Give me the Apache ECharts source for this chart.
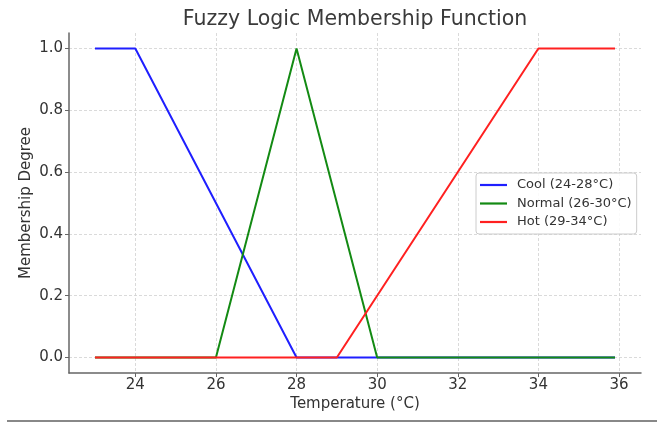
<!DOCTYPE html>
<html>
<head>
<meta charset="utf-8">
<script src="https://cdn.jsdelivr.net/npm/echarts@6/dist/echarts.min.js"></script>
<style>
html,body{margin:0;padding:0;background:#fff;}
#c{width:657px;height:422px;}
</style>
</head>
<body>
<div id="c"></div>
<script>
// Data
const seriesNames = ['Cool (24-28°C)', 'Normal (26-30°C)', 'Hot (29-34°C)'];
const coolX = [23, 24, 28, 35.9];
const coolY = [1, 1, 0, 0];
const normalX = [23, 26, 28, 30, 35.9];
const normalY = [0, 0, 1, 0, 0];
const hotX = [23, 29, 34, 35.9];
const hotY = [0, 0, 1, 1];
const xTicks = [24, 26, 28, 30, 32, 34, 36];
const yTicks = [0, 0.2, 0.4, 0.6, 0.8, 1.0];

const pair = (xs, ys) => xs.map((x, i) => [x, ys[i]]);
const font = 'DejaVu Sans';
const txt = '#333';
const gridLine = { show: true, lineStyle: { color: '#d0d0d0', type: [3, 2], width: 0.8 } };
const colors = ['#1f1fff', '#138a13', '#ff2020'];

const chart = echarts.init(document.getElementById('c'), null, { renderer: 'canvas' });
chart.setOption({
  animation: false,
  backgroundColor: '#fff',
  title: {
    text: 'Fuzzy Logic Membership Function',
    left: 350, top: 4, textAlign: 'center',
    textStyle: { fontFamily: font, fontSize: 20.5, fontWeight: 'normal', color: '#3a3a3a' }
  },
  grid: { left: 69, right: 16, top: 33, bottom: 49, containLabel: false },
  legend: {
    orient: 'vertical', left: 476, top: 173,
    padding: [5, 5, 5, 4],
    icon: 'rect',
    itemWidth: 27, itemHeight: 2.2, itemGap: 4.5,
    backgroundColor: 'rgba(255,255,255,0.85)',
    borderColor: '#cccccc', borderWidth: 1, borderRadius: 3,
    textStyle: { fontFamily: font, fontSize: 13, lineHeight: 14, color: txt, padding: [0, 0, 0, 5] },
    data: seriesNames.map((n, i) => ({ name: n, itemStyle: { color: colors[i] } }))
  },
  xAxis: {
    type: 'value', min: 22.355, max: 36.545,
    name: 'Temperature (°C)', nameLocation: 'middle', nameGap: 24, nameMoveOverlap: false,
    nameTextStyle: { fontFamily: font, fontSize: 15, color: txt },
    axisLine: { show: true, onZero: false, lineStyle: { color: '#666', width: 1.5 } },
    axisTick: { show: true, length: 4, lineStyle: { color: '#666', width: 1 }, customValues: xTicks },
    axisLabel: { margin: 5, fontFamily: font, fontSize: 15, color: txt, customValues: xTicks,
      formatter: v => String(Math.round(v)) },
    splitLine: gridLine
  },
  yAxis: {
    type: 'value', min: -0.05, max: 1.05,
    name: 'Membership Degree', nameLocation: 'middle', nameGap: 35, nameMoveOverlap: false,
    nameTextStyle: { fontFamily: font, fontSize: 15, color: txt },
    axisLine: { show: true, onZero: false, lineStyle: { color: '#666', width: 1.5 } },
    axisTick: { show: true, length: 4, lineStyle: { color: '#666', width: 1 }, customValues: yTicks },
    axisLabel: { margin: 6, fontFamily: font, fontSize: 15, color: txt, customValues: yTicks,
      formatter: v => v.toFixed(1) },
    splitLine: gridLine
  },
  series: [
    { name: seriesNames[0], type: 'line', data: pair(coolX, coolY), symbol: 'none',
      lineStyle: { color: colors[0], width: 2 }, itemStyle: { color: colors[0] }, z: 2 },
    { name: seriesNames[1], type: 'line', data: pair(normalX, normalY), symbol: 'none',
      lineStyle: { color: colors[1], width: 2 }, itemStyle: { color: colors[1] }, z: 3 },
    { name: seriesNames[2], type: 'line', data: pair(hotX, hotY), symbol: 'none',
      lineStyle: { color: colors[2], width: 2 }, itemStyle: { color: colors[2] }, z: 4 }
  ],
  graphic: [
    { type: 'line', shape: { x1: 7, y1: 421, x2: 657, y2: 421 },
      style: { stroke: '#888', lineWidth: 2 } }
  ]
});
</script>
</body>
</html>
